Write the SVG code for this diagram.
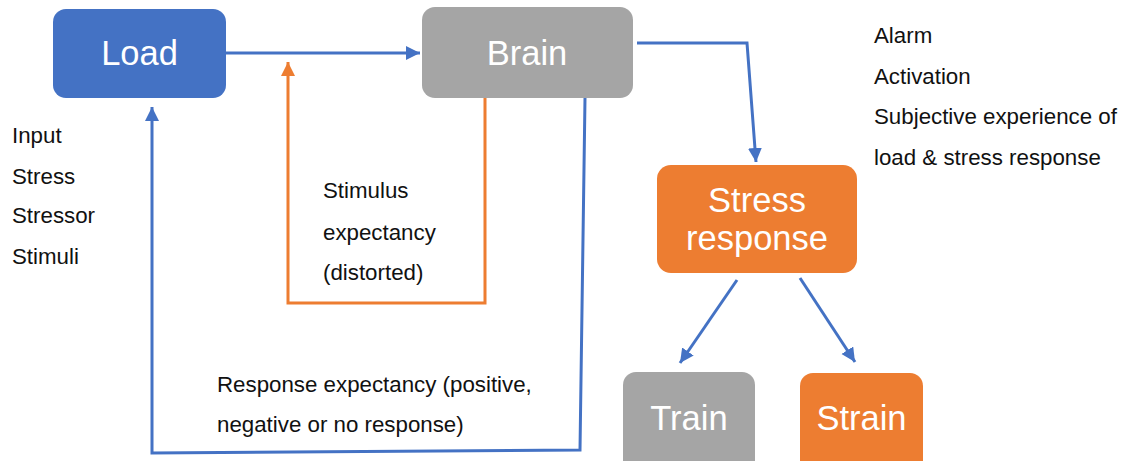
<svg xmlns="http://www.w3.org/2000/svg" width="1128" height="461" viewBox="0 0 1128 461">
  <style>
    .box-blue { fill: #4472c4; }
    .box-gray { fill: #a5a5a5; }
    .box-orange { fill: #ed7d31; }
    .node-label { font-family: "Liberation Sans", Arial, sans-serif; font-size: 34.5px; fill: #ffffff; text-anchor: middle; }
    .note { font-family: "Liberation Sans", Arial, sans-serif; font-size: 22.3px; fill: #111111; }
    .wire-blue { fill: none; stroke: #4472c4; stroke-width: 3; stroke-linejoin: miter; }
    .wire-orange { fill: none; stroke: #ed7d31; stroke-width: 3; stroke-linejoin: miter; }
  </style>
  <defs>
    <marker id="head-blue" markerUnits="userSpaceOnUse" markerWidth="15" markerHeight="15" refX="14" refY="7" orient="auto">
      <path d="M0,0 L14,7 L0,14 Z" fill="#4472c4"/>
    </marker>
    <marker id="head-orange" markerUnits="userSpaceOnUse" markerWidth="15" markerHeight="15" refX="14" refY="7" orient="auto">
      <path d="M0,0 L14,7 L0,14 Z" fill="#ed7d31"/>
    </marker>
  </defs>

  <rect width="1128" height="461" fill="#ffffff"/>

  <!-- connectors -->
  <g id="connectors">
    <path class="wire-blue" d="M226,53 L420,53" marker-end="url(#head-blue)"/>
    <path class="wire-blue" d="M637,43 L747,43 L756,162" marker-end="url(#head-blue)"/>
    <path class="wire-orange" d="M485,98 L485,303 L288,303 L288,62" marker-end="url(#head-orange)"/>
    <path class="wire-blue" d="M585,98 L580,450 L152,453 L152,107" marker-end="url(#head-blue)"/>
    <path class="wire-blue" d="M737,280 L680,363" marker-end="url(#head-blue)"/>
    <path class="wire-blue" d="M800,278 L855,362" marker-end="url(#head-blue)"/>
  </g>

  <g id="load">
    <rect class="box-blue" x="53" y="9" width="173" height="89" rx="13"/>
    <text class="node-label" x="139.5" y="65">Load</text>
  </g>

  <g id="brain">
    <rect class="box-gray" x="422" y="7" width="211" height="91" rx="13"/>
    <text class="node-label" x="527" y="65">Brain</text>
  </g>

  <g id="stress-response">
    <rect class="box-orange" x="657" y="165" width="200" height="108" rx="14"/>
    <text class="node-label" x="757" y="212">Stress</text>
    <text class="node-label" x="757" y="250">response</text>
  </g>

  <g id="train">
    <rect class="box-gray" x="623" y="372" width="132" height="110" rx="13"/>
    <text class="node-label" x="689" y="430">Train</text>
  </g>

  <g id="strain">
    <rect class="box-orange" x="800" y="373" width="123" height="110" rx="13"/>
    <text class="node-label" x="861.5" y="430">Strain</text>
  </g>

  <g id="load-notes">
    <text class="note" x="12" y="143">Input</text>
    <text class="note" x="12" y="184">Stress</text>
    <text class="note" x="12" y="223">Stressor</text>
    <text class="note" x="12" y="264">Stimuli</text>
  </g>

  <g id="brain-notes">
    <text class="note" x="874" y="43">Alarm</text>
    <text class="note" x="874" y="84">Activation</text>
    <text class="note" x="874" y="124">Subjective experience of</text>
    <text class="note" x="874" y="165">load &amp; stress response</text>
  </g>

  <g id="stimulus-label">
    <text class="note" x="323" y="198">Stimulus</text>
    <text class="note" x="323" y="240">expectancy</text>
    <text class="note" x="323" y="280">(distorted)</text>
  </g>

  <g id="response-label">
    <text class="note" x="217" y="392">Response expectancy (positive,</text>
    <text class="note" x="217" y="432">negative or no response)</text>
  </g>
</svg>
